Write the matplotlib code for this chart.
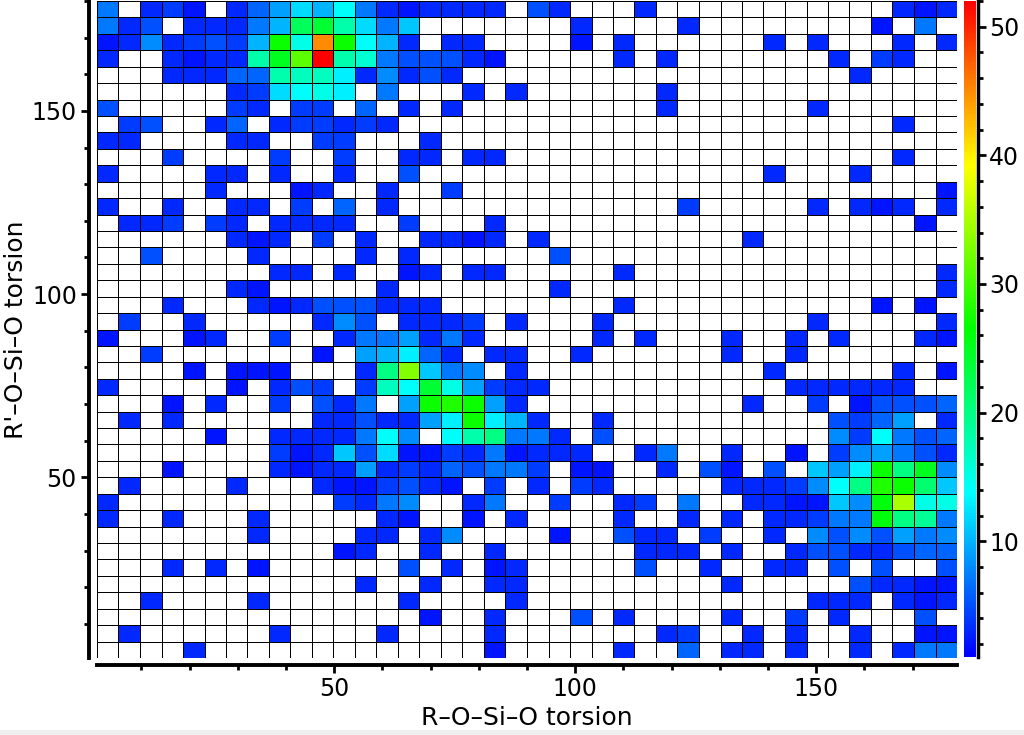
import matplotlib
matplotlib.use('Agg')
import matplotlib.pyplot as plt
import numpy as np
from matplotlib.colors import LinearSegmentedColormap
from matplotlib.patches import Rectangle
from matplotlib.ticker import MultipleLocator

# counts per cell, first row is the top of the plot
counts = [
    [7,0,3,4,2,0,3,6,9,12, 10,14,7,3,2,3,3,3,3,0, 5,3,0,0,0,3,0,0,0,0, 0,0,0,0,0,0,0,3,2,3],
    [7,3,5,0,3,3,3,7,10,22, 24,18,12,7,11,0,0,0,0,0, 0,0,3,0,0,0,0,3,0,0, 0,0,0,0,0,0,2,0,7,0],
    [2,3,8,3,4,5,4,10,27,15, 45,27,14,10,3,0,3,3,0,0, 0,0,2,0,3,0,0,0,0,0, 0,3,0,3,0,0,0,3,0,3],
    [3,0,0,3,2,3,3,18,25,31, 52,18,16,7,5,5,5,3,2,0, 0,0,0,0,3,0,3,0,0,0, 0,0,0,0,3,0,4,3,0,0],
    [0,0,0,3,3,3,6,6,18,17, 17,13,3,8,3,5,3,0,0,0, 0,0,0,0,0,0,0,0,0,0, 0,0,0,0,0,3,0,0,0,0],
    [0,0,0,0,0,0,3,4,12,14, 15,13,0,7,0,0,0,3,0,3, 0,0,0,0,0,0,3,0,0,0, 0,0,0,0,0,0,0,0,0,0],
    [5,0,0,0,0,0,4,3,0,4, 4,0,6,0,3,0,3,0,0,0, 0,0,0,0,0,0,3,0,0,0, 0,0,0,3,0,0,0,0,0,0],
    [0,4,5,0,0,3,6,0,3,4, 4,3,4,3,0,0,0,0,0,0, 0,0,0,0,0,0,0,0,0,0, 0,0,0,0,0,0,0,3,0,0],
    [3,3,0,0,0,0,3,3,0,0, 4,4,0,0,0,3,0,0,0,0, 0,0,0,0,0,0,0,0,0,0, 0,0,0,0,0,0,0,0,0,0],
    [0,0,0,4,0,0,0,0,4,0, 0,4,0,0,3,3,0,3,3,0, 0,0,0,0,0,0,0,0,0,0, 0,0,0,0,0,0,0,3,0,0],
    [3,0,0,0,0,3,3,0,3,0, 0,3,0,0,5,0,0,0,0,0, 0,0,0,0,0,0,0,0,0,0, 0,3,0,0,0,3,0,0,0,0],
    [0,0,0,0,0,3,0,0,0,2, 3,0,0,3,0,0,4,0,0,0, 0,0,0,0,0,0,0,0,0,0, 0,0,0,0,0,0,0,0,0,2],
    [3,0,0,3,0,0,3,3,0,4, 0,6,0,3,0,0,0,0,0,0, 0,0,0,0,0,0,0,4,0,0, 0,0,0,3,0,3,2,3,0,3],
    [0,3,3,4,0,4,3,0,3,3, 3,3,0,0,4,0,0,0,3,0, 0,0,0,0,0,0,0,0,0,0, 0,0,0,0,0,0,0,0,2,0],
    [0,0,0,0,0,0,3,2,3,0, 4,0,3,0,0,3,3,2,3,0, 3,0,0,0,0,0,0,0,0,0, 3,0,0,0,0,0,0,0,0,0],
    [0,0,5,0,0,0,0,3,0,0, 0,0,3,0,3,0,0,0,0,0, 0,5,0,0,0,0,0,0,0,0, 0,0,0,0,0,0,0,0,0,0],
    [0,0,0,0,0,0,0,0,3,3, 0,3,0,0,2,3,0,3,3,0, 0,0,0,0,3,0,0,0,0,0, 0,0,0,0,0,0,0,0,0,3],
    [0,0,0,0,0,0,3,2,0,0, 0,0,0,3,0,0,0,0,0,0, 0,3,0,0,0,0,0,0,0,0, 0,0,0,0,0,0,0,0,0,3],
    [0,0,0,3,0,0,0,3,2,3, 5,5,5,3,3,3,0,0,0,0, 0,0,0,0,3,0,0,0,0,0, 0,0,0,0,0,0,2,0,2,0],
    [0,4,0,0,3,0,0,0,0,0, 3,8,5,0,3,3,3,4,0,3, 0,0,0,3,0,0,0,0,0,0, 0,0,0,3,0,0,0,0,0,3],
    [2,0,0,0,2,3,0,0,4,0, 0,3,7,7,9,3,7,3,0,0, 0,0,0,3,0,3,0,0,0,3, 0,0,3,0,3,0,0,0,3,2],
    [0,0,4,0,0,0,0,0,0,0, 2,0,9,10,13,6,3,0,3,3, 0,0,3,0,0,0,0,0,0,3, 0,0,3,0,0,0,0,0,0,0],
    [0,0,0,0,2,0,2,2,2,0, 0,0,3,20,33,11,7,8,0,3, 0,0,0,0,0,0,0,0,0,0, 0,3,0,0,0,0,0,3,0,2],
    [3,0,0,0,0,0,2,0,3,5, 4,0,4,17,14,24,15,9,4,3, 3,0,0,0,0,0,0,0,0,0, 0,0,3,3,3,3,3,3,0,0],
    [0,0,0,2,0,3,0,0,4,0, 5,3,7,0,9,27,28,27,9,3, 0,0,0,0,0,0,0,0,0,0, 3,0,0,4,0,2,5,5,5,6],
    [0,3,0,3,0,0,0,0,0,0, 3,3,5,3,3,9,13,27,13,10, 3,0,0,3,0,0,0,0,0,0, 0,0,0,0,5,4,6,9,0,3],
    [0,0,0,0,0,2,0,0,3,3, 3,3,7,14,8,0,14,18,20,7, 7,3,0,5,0,0,0,0,0,0, 0,0,0,0,8,4,14,7,5,6],
    [0,0,0,0,0,0,0,0,4,2, 3,11,5,12,2,2,4,3,7,2, 3,3,3,0,0,3,7,0,0,3, 0,0,2,0,4,8,9,7,5,3],
    [0,0,0,2,0,0,0,0,3,2, 3,3,9,3,4,3,6,5,7,7, 4,0,2,2,0,0,3,0,5,2, 0,5,0,11,9,13,27,20,25,8],
    [0,3,0,0,0,0,3,0,0,0, 3,2,2,4,5,3,2,0,4,0, 3,0,4,3,0,0,0,0,0,3, 3,3,4,8,14,20,28,27,21,11],
    [3,0,0,0,0,0,0,0,0,0, 0,4,3,7,8,0,0,3,7,0, 0,4,0,0,3,4,0,7,0,0, 3,3,2,2,11,8,26,35,15,15],
    [3,0,0,3,0,0,0,3,0,0, 0,0,0,3,2,0,0,2,0,3, 0,0,0,0,3,0,0,3,0,3, 0,3,3,4,7,7,26,20,19,7],
    [0,0,0,0,0,0,0,3,0,0, 0,0,3,3,0,3,8,0,0,0, 0,2,0,0,5,3,3,0,4,0, 0,3,0,8,5,8,5,9,7,8],
    [0,0,0,0,0,0,0,0,0,0, 0,2,3,0,0,3,0,0,3,0, 0,0,0,0,0,3,3,3,0,3, 0,0,3,5,5,3,3,5,6,6],
    [0,0,0,3,0,3,0,2,0,0, 0,0,0,0,5,0,3,0,2,3, 0,0,0,0,0,5,0,0,3,0, 0,3,3,0,5,0,5,0,0,5],
    [0,0,0,0,0,0,0,0,0,0, 0,0,3,0,0,3,0,0,3,3, 0,0,0,0,0,0,0,0,0,3, 0,0,0,0,0,5,3,3,2,2],
    [0,0,3,0,0,0,0,3,0,0, 0,0,0,0,3,0,0,0,0,3, 0,0,0,0,0,0,0,0,0,0, 0,0,0,3,3,3,0,3,2,3],
    [0,0,0,0,0,0,0,0,0,0, 0,0,0,0,0,2,0,0,3,0, 0,0,5,0,3,0,0,0,0,3, 0,0,4,0,3,0,0,0,5,0],
    [0,3,0,0,0,0,0,0,3,0, 0,0,0,3,0,0,0,0,3,0, 0,0,0,0,0,0,3,4,0,0, 3,0,3,0,0,3,0,0,2,2],
    [0,0,0,0,3,0,0,0,0,0, 0,0,0,0,0,0,0,0,2,0, 0,0,0,0,3,0,0,6,0,3, 3,0,3,0,0,3,0,3,7,7],
]
x_range = [0.8, 179.2]
y_range = [0.7, 180.0]
vmin = 1
vmax = 52
main_ticks = [50, 100, 150]
bar_ticks = [10, 20, 30, 40, 50]
xlabel = 'R\u2013O\u2013Si\u2013O torsion'
ylabel = "R'\u2013O\u2013Si\u2013O torsion"

W, H = 1024, 735
fig = plt.figure(figsize=(W / 100, H / 100), dpi=100)
# grey band at the bottom of the screenshot
fig.add_artist(Rectangle((0, 0), 1, 5 / H, transform=fig.transFigure, color='#efefef', lw=0))

rainbow = LinearSegmentedColormap.from_list(
    'rainbow5', ['#0000ff', '#00ffff', '#00ff00', '#ffff00', '#ff0000'], N=256)
rainbow.set_under('white')

ax = fig.add_axes([97 / W, 1 - 658 / H, 860 / W, 657 / H])
grid = np.array(counts)[::-1]
xedges = np.linspace(x_range[0], x_range[1], grid.shape[1] + 1)
yedges = np.linspace(y_range[0], y_range[1], grid.shape[0] + 1)
mesh = ax.pcolormesh(xedges, yedges, grid, cmap=rainbow, vmin=vmin, vmax=vmax,
                     edgecolors='black', linewidth=0.7)
ax.set_xlim(x_range)
ax.set_ylim(y_range)

# axes lines stand off from the plot
for s in ['top', 'right']:
    ax.spines[s].set_visible(False)
ax.spines['left'].set_position(('outward', 5.5))
ax.spines['bottom'].set_position(('outward', 5))
ax.spines['left'].set_linewidth(2.8)
ax.spines['bottom'].set_linewidth(2.8)
ax.set_xticks(main_ticks)
ax.set_yticks(main_ticks)
ax.xaxis.set_minor_locator(MultipleLocator(10))
ax.yaxis.set_minor_locator(MultipleLocator(10))
ax.tick_params(which='major', length=6, width=2, labelsize=17, pad=3)
ax.tick_params(which='minor', length=3.5, width=2)
ax.set_xlabel(xlabel, fontsize=18, labelpad=3.5)
ax.set_ylabel(ylabel, fontsize=18, labelpad=3)

# colour bar
cax = fig.add_axes([964 / W, 1 - 657 / H, 12 / W, 656 / H])
cbar = fig.colorbar(mesh, cax=cax)
cbar.outline.set_visible(False)
cbar.set_ticks(bar_ticks)
cax.yaxis.set_minor_locator(MultipleLocator(2))
cax.spines['right'].set_visible(True)
cax.spines['right'].set_linewidth(2.5)
cax.spines['right'].set_position(('outward', 1.5))
cax.tick_params(which='major', length=6, width=2, labelsize=17, pad=2)
cax.tick_params(which='minor', length=3.5, width=2)

fig.savefig('out.png', dpi=100)
